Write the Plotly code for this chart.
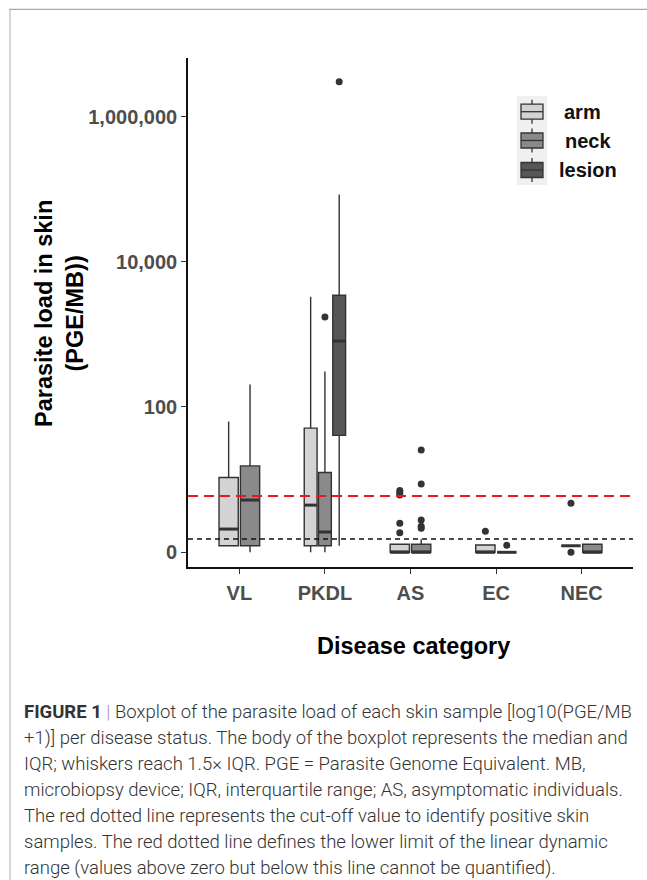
import math
import plotly.graph_objects as go

# ---------------- data (log10(PGE/MB + 1) units) ----------------
categories = ["VL", "PKDL", "AS", "EC", "NEC"]
sites = ["arm", "neck", "lesion"]

arm_q1 = [0.09, 0.09, 0.0, 0.0, 0.09]
arm_median = [0.32, 0.65, 0.0, 0.0, 0.09]
arm_q3 = [1.03, 1.71, 0.11, 0.10, 0.09]
arm_lower = [0.09, 0.0, 0.0, 0.0, 0.09]
arm_upper = [1.80, 3.52, 0.11, 0.10, 0.09]

neck_q1 = [0.09, 0.09, 0.0, 0.0, 0.0]
neck_median = [0.72, 0.28, 0.0, 0.0, 0.0]
neck_q3 = [1.19, 1.10, 0.11, 0.0, 0.11]
neck_lower = [0.0, 0.0, 0.0, 0.0, 0.0]
neck_upper = [2.31, 2.49, 0.18, 0.0, 0.11]

lesion_q1 = [None, 1.61, None, None, None]
lesion_median = [None, 2.91, None, None, None]
lesion_q3 = [None, 3.54, None, None, None]
lesion_lower = [None, 0.09, None, None, None]
lesion_upper = [None, 4.93, None, None, None]

arm_outliers = {"AS": [0.85, 0.82, 0.79, 0.40, 0.27], "EC": [0.29], "NEC": [0.675, 0.0]}
neck_outliers = {"PKDL": [3.24], "AS": [1.41, 0.94, 0.445, 0.36, 0.33], "EC": [0.096]}
lesion_outliers = {"PKDL": [6.48]}

cutoff_value = 0.775       # red dashed line
lower_limit_value = 0.183  # black dashed line

tick_labels = ["0", "100", "10,000", "1,000,000"]
tick_raw = [0, 100, 10000, 1000000]

site_fill = {"arm": "#d3d3d3", "neck": "#8a8a8a", "lesion": "#565656"}

stats = {
    "arm": (arm_q1, arm_median, arm_q3, arm_lower, arm_upper, arm_outliers),
    "neck": (neck_q1, neck_median, neck_q3, neck_lower, neck_upper, neck_outliers),
    "lesion": (lesion_q1, lesion_median, lesion_q3, lesion_lower, lesion_upper, lesion_outliers),
}

# ---------------- layout geometry ----------------
W, H = 647, 880
L, R, T, B = 188, 14, 58, 313
PW, PH = W - L - R, H - T - B


def px(x):
    return (x - L) / PW


def py(y):
    return (H - B - y) / PH


OUT = "#333333"
fig = go.Figure()

present = {c: [s for s in sites if stats[s][0][i] is not None] for i, c in enumerate(categories)}
total_w = 0.5

med_x, med_y = [], []
for s in sites:
    q1, med, q3, lo, hi, outl = stats[s]
    for i, c in enumerate(categories):
        if q1[i] is None:
            continue
        grp = present[c]
        n = len(grp)
        slot = total_w / n
        k = grp.index(s)
        pos = i - total_w / 2 + slot * (k + 0.5)
        bw = slot * 0.9
        fig.add_trace(go.Box(
            x=[pos], q1=[q1[i]], median=[med[i]], q3=[q3[i]],
            lowerfence=[lo[i]], upperfence=[hi[i]],
            orientation="v", width=bw, whiskerwidth=0,
            fillcolor=site_fill[s], line=dict(color=OUT, width=1.4),
            boxpoints=False, showlegend=False, hoverinfo="skip",
        ))
        med_x += [pos - bw / 2, pos + bw / 2, None]
        med_y += [med[i], med[i], None]
        if c in outl:
            fig.add_trace(go.Scatter(
                x=[pos] * len(outl[c]), y=outl[c], mode="markers",
                marker=dict(color=OUT, size=7), showlegend=False, hoverinfo="skip",
            ))

fig.add_trace(go.Scatter(x=med_x, y=med_y, mode="lines",
                         line=dict(color=OUT, width=3), showlegend=False, hoverinfo="skip"))

tick_vals = [math.log10(v + 1) for v in tick_raw]
unit = 72.6
zero_px = 552.3
y_lo = -(H - B - zero_px) / unit
y_hi = (zero_px - T) / unit

tickfont = dict(family="Liberation Sans, Arial, sans-serif", size=20, color="#4d4d4d", weight="bold")
fig.update_xaxes(range=[-0.6, 4.6], tickvals=list(range(len(categories))), ticktext=categories,
                 showline=True, linecolor="#111111", linewidth=1.6, ticks="outside", ticklen=5,
                 tickwidth=1.4, tickcolor=OUT, showgrid=False, zeroline=False, tickfont=tickfont,
                 ticklabelstandoff=2)
fig.update_yaxes(range=[y_lo, y_hi], tickvals=tick_vals, ticktext=tick_labels,
                 showline=True, linecolor="#111111", linewidth=1.6, ticks="outside", ticklen=5,
                 tickwidth=1.4, tickcolor=OUT, showgrid=False, zeroline=False, tickfont=tickfont)

shapes = []
# reference lines
shapes.append(dict(type="line", xref="paper", yref="y", x0=0, x1=1, y0=cutoff_value, y1=cutoff_value,
                   line=dict(color="#e41a1c", width=2, dash="10px,6px")))
shapes.append(dict(type="line", xref="paper", yref="y", x0=0, x1=1, y0=lower_limit_value,
                   y1=lower_limit_value, line=dict(color="#111111", width=1.5, dash="5px,4px")))
# page frame (top and left gray border)
shapes.append(dict(type="line", xref="paper", yref="paper", x0=px(9), x1=px(W + 5), y0=py(9.3), y1=py(9.3),
                   line=dict(color="#a8a8a8", width=1.2)))
shapes.append(dict(type="line", xref="paper", yref="paper", x0=px(10), x1=px(10), y0=py(9.8), y1=py(H + 5),
                   line=dict(color="#d6d6d6", width=2)))

# custom legend
shapes.append(dict(type="rect", xref="paper", yref="paper", x0=px(517), x1=px(547), y0=py(96), y1=py(185),
                   fillcolor="#f0f0f0", line=dict(width=0), layer="below"))
annotations = []
key_cy = [111.7, 140.5, 170.0]
label_x = [562, 563, 557]
for s, cy, lx in zip(sites, key_cy, label_x):
    shapes.append(dict(type="line", xref="paper", yref="paper", x0=px(532), x1=px(532),
                       y0=py(cy - 12), y1=py(cy + 12), line=dict(color=OUT, width=1.3)))
    shapes.append(dict(type="rect", xref="paper", yref="paper", x0=px(521), x1=px(543),
                       y0=py(cy - 7.5), y1=py(cy + 7.5), fillcolor=site_fill[s],
                       line=dict(color=OUT, width=1.3)))
    shapes.append(dict(type="line", xref="paper", yref="paper", x0=px(521), x1=px(543),
                       y0=py(cy), y1=py(cy), line=dict(color=OUT, width=1.3)))
    annotations.append(dict(text=s, xref="paper", yref="paper", x=px(lx), y=py(cy), xanchor="left",
                            yanchor="middle", showarrow=False,
                            font=dict(family="Liberation Sans, Arial", size=20, color="#111111",
                                      weight="bold")))

# axis titles
annotations.append(dict(text="Disease category", xref="paper", yref="paper", x=px(413.5), y=py(646),
                        xanchor="center", yanchor="middle", showarrow=False,
                        font=dict(family="Liberation Sans, Arial", size=23.5, color="#000000",
                                  weight="bold")))
annotations.append(dict(text="Parasite load in skin<br>(PGE/MB))", xref="paper", yref="paper",
                        x=px(59), y=py(314), xanchor="center", yanchor="middle", textangle=-90,
                        showarrow=False,
                        font=dict(family="Liberation Sans, Arial", size=23.5, color="#000000",
                                  weight="bold")))

# caption
caption_lines = [
    "<b>FIGURE 1</b> <span style='color:#9a9a9a'>|</span> Boxplot of the parasite load of each skin sample [log10(PGE/MB",
    "+1)] per disease status. The body of the boxplot represents the median and",
    "IQR; whiskers reach 1.5× IQR. PGE = Parasite Genome Equivalent. MB,",
    "microbiopsy device; IQR, interquartile range; AS, asymptomatic individuals.",
    "The red dotted line represents the cut-off value to identify positive skin",
    "samples. The red dotted line defines the lower limit of the linear dynamic",
    "range (values above zero but below this line cannot be quantified).",
]
for j, line in enumerate(caption_lines):
    annotations.append(dict(text=line, xref="paper", yref="paper", x=px(22), y=py(712 + 26 * j),
                            xanchor="left", yanchor="middle", showarrow=False,
                            font=dict(family="Roboto, Liberation Sans, Arial", size=18.5,
                                      color="#333333", weight=300)))

fig.update_layout(width=W, height=H, margin=dict(l=L, r=R, t=T, b=B),
                  plot_bgcolor="white", paper_bgcolor="white",
                  boxmode="overlay", showlegend=False)
fig.layout.shapes = shapes
fig.layout.annotations = annotations

fig.write_html("out.html")
